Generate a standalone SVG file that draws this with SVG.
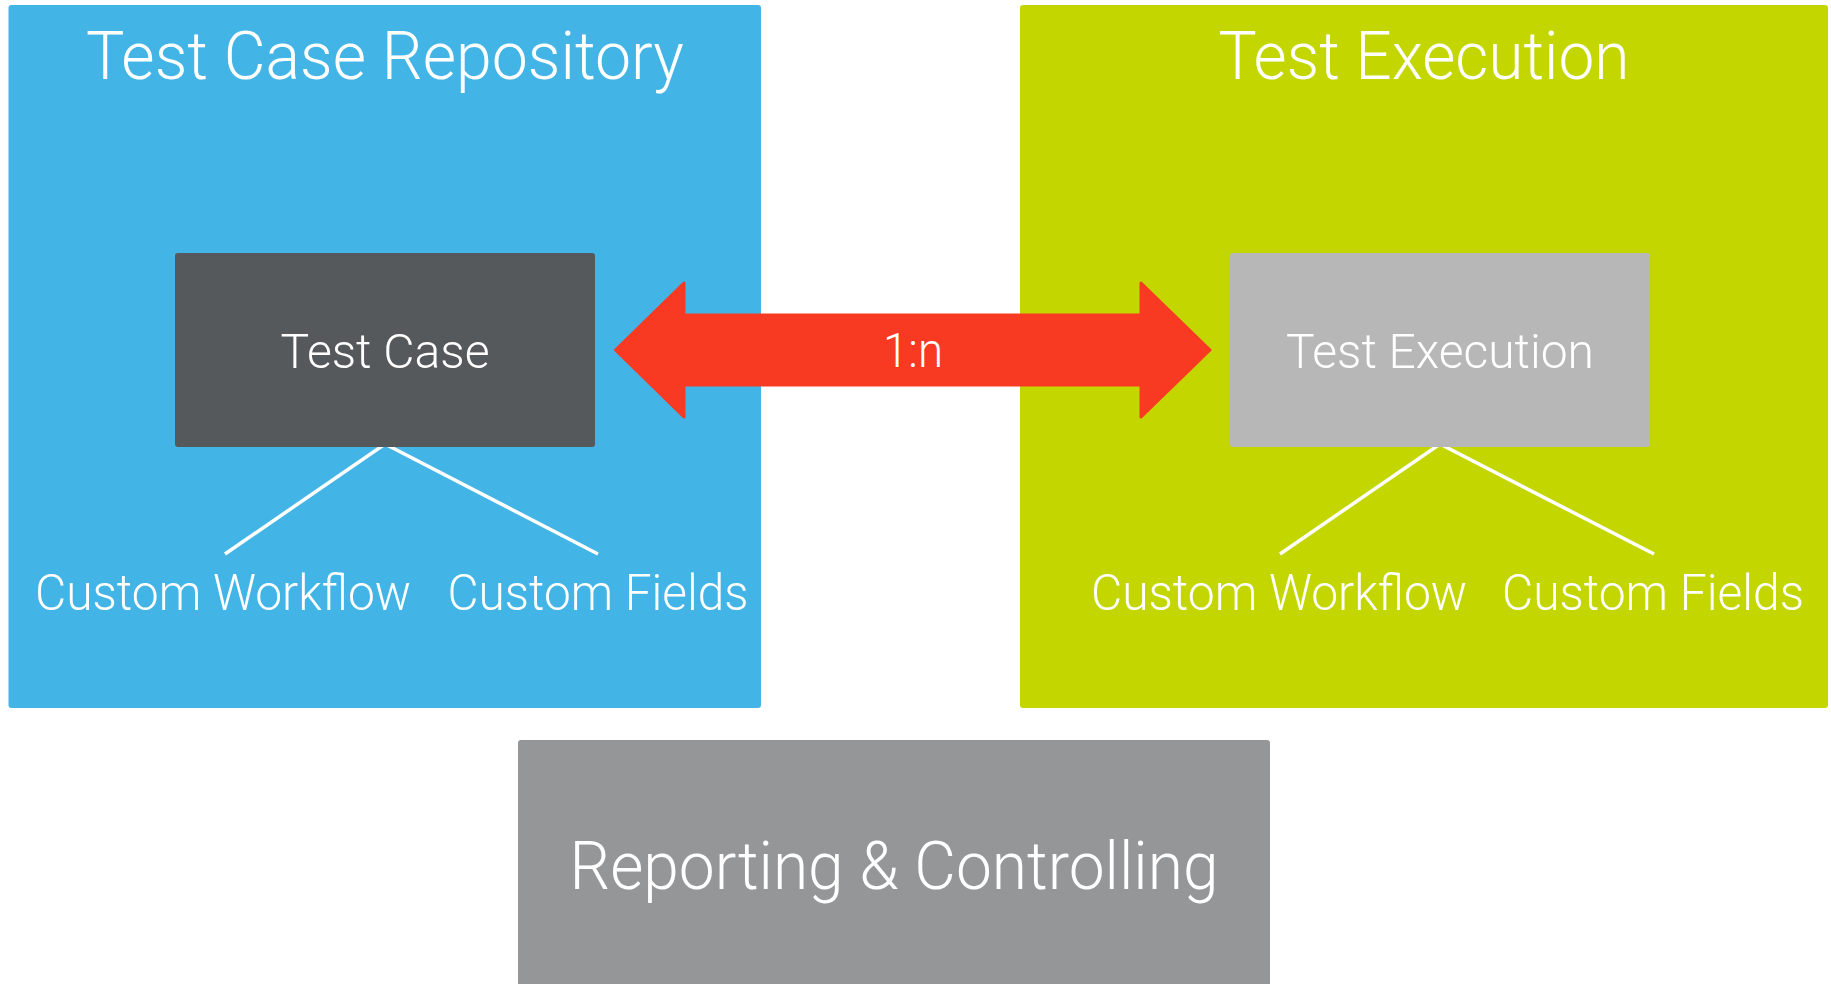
<svg xmlns="http://www.w3.org/2000/svg" width="1831" height="984" viewBox="0 0 1831 984">
<style>
.t{font-family:Roboto,"Liberation Sans",sans-serif;font-weight:300;fill:#ffffff;text-anchor:middle}
.big{font-size:66px}
.mid{font-size:49px}
.lbl{font-size:50px}
.branch{fill:none;stroke:#ffffff;stroke-width:3.5}
</style>
<rect width="1831" height="984" fill="#ffffff"/>
<g id="repo">
<rect x="8.5" y="5" width="752.5" height="703" rx="3" fill="#42b4e6"/>
<text class="t big" x="385" y="79" textLength="598" lengthAdjust="spacingAndGlyphs">Test Case Repository</text>
</g>
<g id="execution-area">
<rect x="1020" y="5" width="808" height="703" rx="3" fill="#c4d600"/>
<text class="t big" x="1424" y="79" textLength="411" lengthAdjust="spacingAndGlyphs">Test Execution</text>
</g>
<g id="reporting">
<rect x="518" y="740" width="752" height="250" rx="3" fill="#959698"/>
<text class="t big" x="894" y="889" textLength="649" lengthAdjust="spacingAndGlyphs">Reporting &amp; Controlling</text>
</g>
<g id="connectors">
<path d="M615.5,350 L684,283 L684,315 L1141,315 L1141,283 L1210,350 L1141,417 L1141,385 L684,385 L684,417 Z" fill="#f93a22" stroke="#f93a22" stroke-width="3" stroke-linejoin="round"/>
<text class="t mid" x="913" y="367" textLength="60" lengthAdjust="spacingAndGlyphs">1:n</text>
<polyline class="branch" points="225,554 385,444 598,554"/>
<polyline class="branch" points="1280,554 1440,444 1654,554"/>
</g>
<g id="testcase">
<rect x="175" y="253" width="420" height="194" rx="3" fill="#55595c"/>
<text class="t mid" x="385" y="368" textLength="209" lengthAdjust="spacingAndGlyphs">Test Case</text>
</g>
<g id="testexecution">
<rect x="1230" y="253" width="420" height="194" rx="3" fill="#b7b7b7"/>
<text class="t mid" x="1440" y="368" textLength="308" lengthAdjust="spacingAndGlyphs">Test Execution</text>
</g>
<g id="tc-workflow"><text class="t lbl" x="223" y="610" textLength="376" lengthAdjust="spacingAndGlyphs">Custom Workflow</text></g>
<g id="tc-fields"><text class="t lbl" x="598" y="610" textLength="301" lengthAdjust="spacingAndGlyphs">Custom Fields</text></g>
<g id="te-workflow"><text class="t lbl" x="1279" y="610" textLength="376" lengthAdjust="spacingAndGlyphs">Custom Workflow</text></g>
<g id="te-fields"><text class="t lbl" x="1653" y="610" textLength="302" lengthAdjust="spacingAndGlyphs">Custom Fields</text></g>
</svg>
